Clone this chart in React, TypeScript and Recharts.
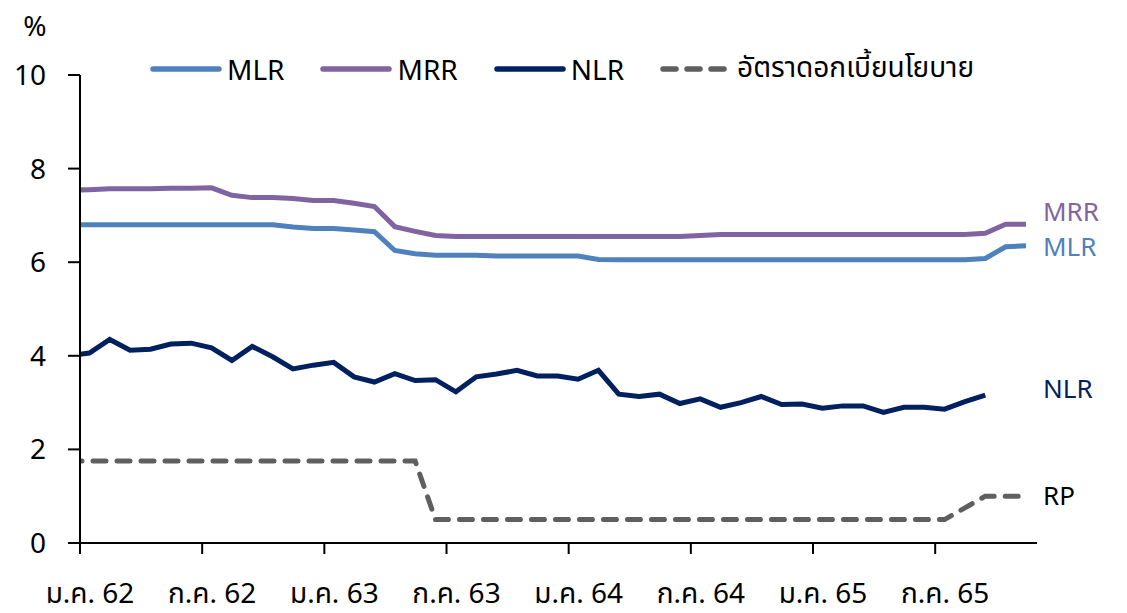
import { Label, Legend, Line, LineChart, ReferenceDot, XAxis, YAxis } from "recharts"

// monthly series, Dec 2018 (index -1) to Nov 2022 (index 46); points sit mid-month on a date axis
const firstMonth = -1

const mlr = [
  6.8, 6.8, 6.8, 6.8, 6.8, 6.8, 6.8, 6.8, 6.8, 6.8, 6.8,
  6.75, 6.72, 6.72, 6.69, 6.65, 6.25, 6.18, 6.15, 6.15, 6.15,
  6.13, 6.13, 6.13, 6.13, 6.13, 6.06, 6.05, 6.05, 6.05, 6.05,
  6.05, 6.05, 6.05, 6.05, 6.05, 6.05, 6.05, 6.05, 6.05, 6.05,
  6.05, 6.05, 6.05, 6.05, 6.08, 6.33, 6.35,
]

const mrr = [
  7.54, 7.55, 7.57, 7.57, 7.57, 7.58, 7.58, 7.59, 7.43, 7.38, 7.38,
  7.36, 7.32, 7.32, 7.26, 7.19, 6.76, 6.66, 6.57, 6.55, 6.55,
  6.55, 6.55, 6.55, 6.55, 6.55, 6.55, 6.55, 6.55, 6.55, 6.55,
  6.57, 6.59, 6.59, 6.59, 6.59, 6.59, 6.59, 6.59, 6.59, 6.59,
  6.59, 6.59, 6.59, 6.59, 6.62, 6.81, 6.81,
]

const nlr = [
  4.0, 4.06, 4.35, 4.12, 4.14, 4.25, 4.27, 4.17, 3.9, 4.2, 3.98,
  3.72, 3.8, 3.86, 3.55, 3.44, 3.62, 3.47, 3.49, 3.23, 3.55,
  3.61, 3.69, 3.57, 3.57, 3.5, 3.69, 3.18, 3.13, 3.18, 2.98,
  3.08, 2.9, 3.0, 3.13, 2.96, 2.97, 2.88, 2.93, 2.93, 2.79,
  2.9, 2.9, 2.86, 3.02, 3.16, null, null,
]

const policyRate = [
  1.75, 1.75, 1.75, 1.75, 1.75, 1.75, 1.75, 1.75, 1.75, 1.75, 1.75,
  1.75, 1.75, 1.75, 1.75, 1.75, 1.75, 1.75, 0.5, 0.5, 0.5,
  0.5, 0.5, 0.5, 0.5, 0.5, 0.5, 0.5, 0.5, 0.5, 0.5,
  0.5, 0.5, 0.5, 0.5, 0.5, 0.5, 0.5, 0.5, 0.5, 0.5,
  0.5, 0.5, 0.5, 0.75, 1.0, 1.0, 1.0,
]

const xTicks = [0, 6, 12, 18, 24, 30, 36, 42]
const xTickLabels = ["ม.ค. 62", "ก.ค. 62", "ม.ค. 63", "ก.ค. 63", "ม.ค. 64", "ก.ค. 64", "ม.ค. 65", "ก.ค. 65"]
const yTicks = [0, 2, 4, 6, 8, 10]

const endLabels = [
  { text: "MRR", y: 7.08, color: "#8064A2" },
  { text: "MLR", y: 6.32, color: "#4F81BD" },
  { text: "NLR", y: 3.3, color: "#002060" },
  { text: "RP", y: 1.0, color: "#000000" },
]

const data = mlr.map((v, i) => ({
  t: firstMonth + i + 0.46,
  mlr: v,
  mrr: mrr[i],
  nlr: nlr[i],
  rp: policyRate[i],
}))

const font = "Tahoma, 'Noto Sans', 'Noto Sans Thai', 'DejaVu Sans', sans-serif"
const fontSize = 28
const dash = "13 11"

function LegendRow({ payload }: any) {
  return (
    <div style={{ display: "flex", alignItems: "center", fontFamily: font, fontSize, color: "#000" }}>
      {(payload || []).map((entry: any) => (
        <div key={entry.value} style={{ display: "flex", alignItems: "center", marginRight: 36 }}>
          <svg width={72} height={10} style={{ marginRight: 5 }}>
            <line
              x1={3}
              y1={5}
              x2={69}
              y2={5}
              stroke={entry.color}
              strokeWidth={5.5}
              strokeLinecap="round"
              strokeDasharray={entry.payload?.strokeDasharray}
            />
          </svg>
          <span>{entry.value}</span>
        </div>
      ))}
    </div>
  )
}

export default function App() {
  return (
    <div style={{ position: "absolute", left: 0, top: 0, width: 1127, height: 613, background: "#fff" }}>
      <LineChart
        width={1127}
        height={613}
        data={data}
        margin={{ top: 75, right: 90, left: 0, bottom: 0 }}
        style={{ fontFamily: font }}
      >
        <XAxis
          type="number"
          dataKey="t"
          domain={[0, 47]}
          ticks={xTicks}
          allowDataOverflow
          tickFormatter={(v: number) => xTickLabels[xTicks.indexOf(v)]}
          height={70}
          tickSize={11}
          tickMargin={29}
          axisLine={{ stroke: "#000", strokeWidth: 2 }}
          tickLine={{ stroke: "#000", strokeWidth: 2 }}
          tick={{ fill: "#000", fontSize, dx: 10 }}
        />
        <YAxis
          type="number"
          domain={[0, 10]}
          ticks={yTicks}
          width={80}
          tickSize={12}
          tickMargin={22}
          axisLine={{ stroke: "#000", strokeWidth: 2 }}
          tickLine={{ stroke: "#000", strokeWidth: 2 }}
          tick={{ fill: "#000", fontSize }}
        >
          <Label value="%" position="top" offset={39} dx={-5} fill="#000" fontSize={fontSize} />
        </YAxis>
        <Legend
          verticalAlign="middle"
          align="center"
          layout="horizontal"
          content={<LegendRow />}
          wrapperStyle={{ top: 47, left: 150, width: 950 }}
        />
        <Line
          dataKey="mlr"
          name="MLR"
          stroke="#4F81BD"
          strokeWidth={5}
          dot={false}
          isAnimationActive={false}
        />
        <Line
          dataKey="mrr"
          name="MRR"
          stroke="#8064A2"
          strokeWidth={5}
          dot={false}
          isAnimationActive={false}
        />
        <Line
          dataKey="nlr"
          name="NLR"
          stroke="#002060"
          strokeWidth={5}
          dot={false}
          isAnimationActive={false}
        />
        <Line
          dataKey="rp"
          name="อัตราดอกเบี้ยนโยบาย"
          stroke="#5F5F5F"
          strokeWidth={5}
          strokeDasharray={dash}
          strokeLinecap="round"
          dot={false}
          isAnimationActive={false}
        />
        {endLabels.map((l) => (
          <ReferenceDot
            key={l.text}
            x={47}
            y={l.y}
            r={0}
            stroke="none"
            fill="none"
            label={{ value: l.text, position: "right", offset: 6, fill: l.color, fontSize: 26 }}
          />
        ))}
      </LineChart>
    </div>
  )
}
